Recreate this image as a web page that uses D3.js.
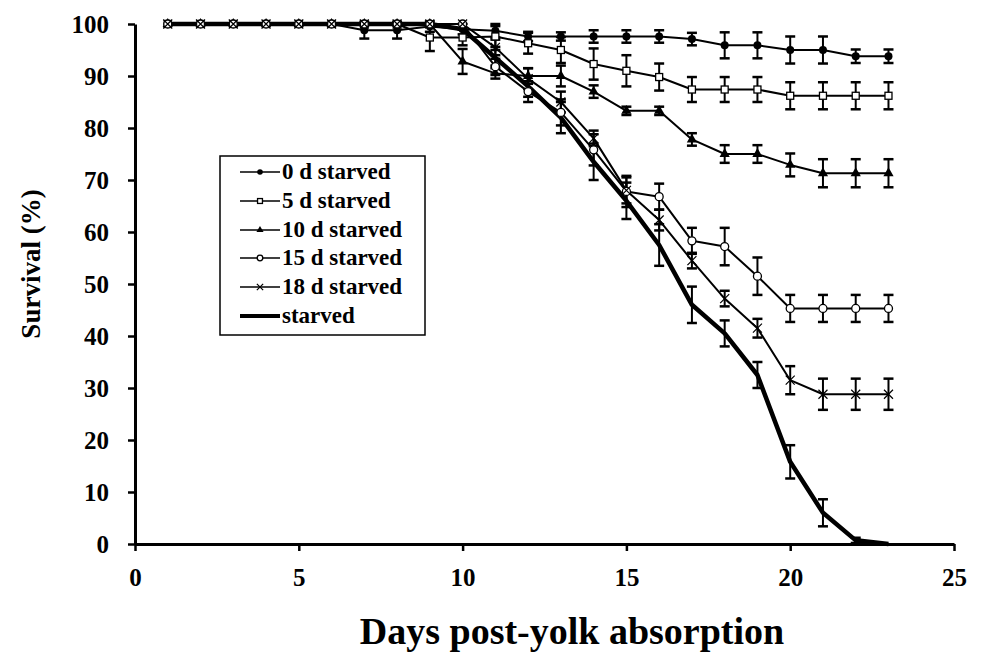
<!DOCTYPE html>
<html><head><meta charset="utf-8">
<script src="https://cdn.jsdelivr.net/npm/d3@7"></script>
<style>body{margin:0;background:#fff;} svg{display:block;}</style>
</head><body>
<svg id="chart" width="981" height="652"></svg>
<script>
const days = [1,2,3,4,5,6,7,8,9,10,11,12,13,14,15,16,17,18,19,20,21,22,23];
const xTicks = [0,5,10,15,20,25];
const yTicks = [0,10,20,30,40,50,60,70,80,90,100];
const seriesNames = ["0 d starved","5 d starved","10 d starved","15 d starved","18 d starved","starved"];

const surv0  = [100,100,100,100,100,100,98.8,98.8,99.5,99,98.7,97.6,97.6,97.6,97.6,97.6,97.1,95.9,95.9,95,95,93.8,93.8];
const err0   = [0,0,0,0,0,0,1.6,1.6,1,1,1.3,0.9,0.8,1.2,1.2,1.2,1.2,2.5,2.5,2.6,2.6,1.3,1.3];
const surv5  = [100,100,100,100,100,100,100,100,97.4,97.4,97.6,96.3,95,92.3,91,89.8,87.4,87.4,87.4,86.2,86.2,86.2,86.2];
const err5   = [0,0,0,0,0,0,0,0,2.6,1.5,2,2,2.5,3,3,2.6,2.4,2.4,2.4,2.6,2.6,2.6,2.6];
const surv10 = [100,100,100,100,100,100,100,100,100,92.8,90.5,90,90,87,83.3,83.3,77.8,75,75,72.9,71.3,71.3,71.3];
const err10  = [0,0,0,0,0,0,0,0,0,2.4,1,1.5,2,1.2,0.8,0.8,1.2,1.7,1.7,2.2,2.7,2.7,2.7];
const surv15 = [100,100,100,100,100,100,100,100,100,100,91.8,87,83,75.8,67.8,66.8,58.3,57.2,51.5,45.3,45.3,45.3,45.3];
const err15  = [0,0,0,0,0,0,0,0,0,0,1.5,2,2.5,3,3,2.5,2.5,3.6,3.6,2.6,2.6,2.6,2.6];
const surv18 = [100,100,100,100,100,100,100,100,100,100,95.5,89.5,85,78,68,62.3,54.5,47.2,41.5,31.5,28.8,28.8,28.8];
const err18  = [0,0,0,0,0,0,0,0,0,0,1.5,2,2,1.5,2.5,2,1.5,1.5,1.8,2.7,3,3,3];
const survS  = [100,100,100,100,100,100,100,100,100,99,93.5,88,82,73.5,66,57.5,46,40.5,32.5,15.8,6,0.7,0];
const errS   = [0,0,0,0,0,0,0,0,0,0,1.5,2,3,3.5,3.5,4,3.5,2.5,2.5,3.2,2.6,0.5,0];

const seriesVals = [surv0,surv5,surv10,surv15,surv18,survS];
const seriesErrs = [err0,err5,err10,err15,err18,errS];
const markerKinds = ["dot","square","triangle","circle","cross","none"];

const svg = d3.select("#chart");
const FONT = '"Liberation Serif"';
const x = d3.scaleLinear().domain([0,25]).range([135,954]);
const y = d3.scaleLinear().domain([0,100]).range([544,24]);

function serif(sel, size) {
  return sel.style("font-family",FONT).style("font-weight","bold").style("font-size",size+"px").style("fill","#000");
}

const yAxis = svg.append("g").attr("transform","translate(135,0)")
  .call(d3.axisLeft(y).tickValues(yTicks).tickSize(7).tickSizeOuter(0).tickPadding(19));
const xAxis = svg.append("g").attr("transform","translate(0,544)")
  .call(d3.axisBottom(x).tickValues(xTicks).tickSize(7).tickSizeOuter(0).tickPadding(17));
[yAxis,xAxis].forEach(g=>{
  g.select(".domain").attr("stroke","#000").attr("stroke-width",3);
  g.selectAll(".tick line").attr("stroke","#000").attr("stroke-width",2.5);
  serif(g.selectAll(".tick text"), 25);
});

serif(svg.append("text").attr("transform","translate(40,264) rotate(-90)")
  .attr("text-anchor","middle"), 27).text("Survival (%)");
serif(svg.append("text").attr("x",572).attr("y",644).attr("text-anchor","middle"), 38)
  .text("Days post-yolk absorption");

const plot = svg.append("g");

function drawMarker(g, kind, cx, cy, s) {
  if (kind==="dot") g.append("circle").attr("cx",cx).attr("cy",cy).attr("r",4*s).attr("fill","#000");
  else if (kind==="square") g.append("rect").attr("x",cx-3.5*s).attr("y",cy-3.5*s).attr("width",7*s).attr("height",7*s)
      .attr("fill","#fff").attr("stroke","#000").attr("stroke-width",1.3);
  else if (kind==="triangle") g.append("path").attr("d",d3.symbol(d3.symbolTriangle, 45*s*s)()).attr("transform",`translate(${cx},${cy})`).attr("fill","#000");
  else if (kind==="circle") g.append("circle").attr("cx",cx).attr("cy",cy).attr("r",4*s).attr("fill","#fff").attr("stroke","#000").attr("stroke-width",1.3);
  else if (kind==="cross") g.append("path").attr("d",`M${cx-4.5*s},${cy-4.5*s}L${cx+4.5*s},${cy+4.5*s}M${cx-4.5*s},${cy+4.5*s}L${cx+4.5*s},${cy-4.5*s}`)
      .attr("stroke","#000").attr("stroke-width",1.2);
}

seriesVals.forEach((vals,i)=>{
  const errs = seriesErrs[i];
  vals.forEach((v,j)=>{
    if (errs[j] <= 0) return;
    const cx = x(days[j]), y1 = y(v+errs[j]), y2 = y(v-errs[j]);
    plot.append("line").attr("x1",cx).attr("x2",cx).attr("y1",y1).attr("y2",y2).attr("stroke","#000").attr("stroke-width",2);
    [y1,y2].forEach(yy=>plot.append("line").attr("x1",cx-5).attr("x2",cx+5).attr("y1",yy).attr("y2",yy).attr("stroke","#000").attr("stroke-width",2.5));
  });
});

const line = d3.line().x((d,j)=>x(days[j])).y(d=>y(d));
seriesVals.forEach((vals,i)=>{
  plot.append("path").attr("d",line(vals)).attr("fill","none").attr("stroke","#000")
    .attr("stroke-width", i===5 ? 4.5 : 2).attr("stroke-linejoin","round");
});
seriesVals.forEach((vals,i)=>{
  vals.forEach((v,j)=>drawMarker(plot, markerKinds[i], x(days[j]), y(v), 1));
});

const lg = svg.append("g");
lg.append("rect").attr("x",220).attr("y",156).attr("width",205).attr("height",179)
  .attr("fill","#fff").attr("stroke","#000").attr("stroke-width",1.5);
const legY = [172,201,230,258,287,316];
seriesNames.forEach((name,i)=>{
  const yy = legY[i];
  lg.append("line").attr("x1",240).attr("x2",280).attr("y1",yy).attr("y2",yy)
    .attr("stroke","#000").attr("stroke-width", i===5?4:1.5);
  drawMarker(lg, markerKinds[i], 260, yy, 0.7);
  serif(lg.append("text").attr("x",282).attr("y",yy+7), 23).text(name);
});
</script>
</body></html>
